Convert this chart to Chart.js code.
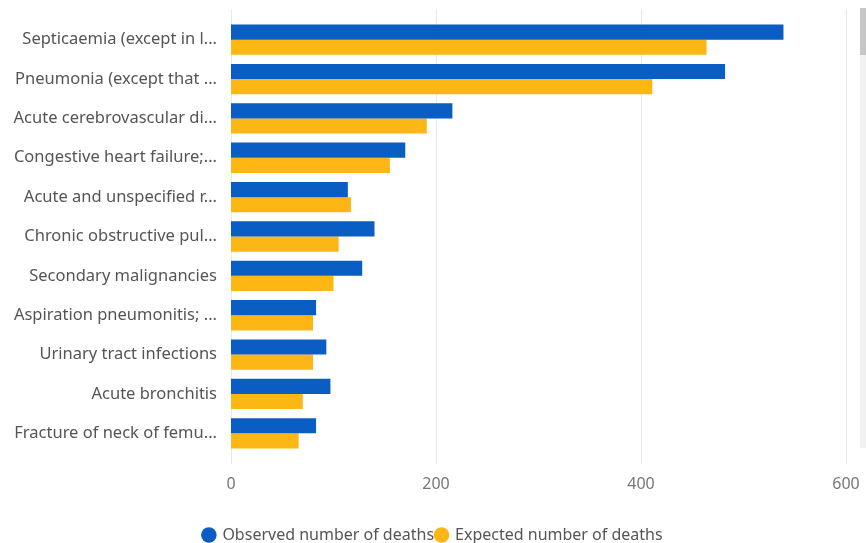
<!DOCTYPE html>
<html>
<head>
<meta charset="utf-8">
<script src="https://cdn.jsdelivr.net/npm/chart.js@4.4.1/dist/chart.umd.min.js"></script>
<style>
  html, body { margin: 0; padding: 0; background: #fff; }
  #wrap { position: relative; width: 866px; height: 543px; }
  #track { position: absolute; left: 860px; top: 8px; width: 6px; height: 440px; background: #f1f1f1; }
  #thumb { position: absolute; left: 860px; top: 8px; width: 6px; height: 47px; background: #c6c6c6; }
</style>
</head>
<body>
<div id="wrap">
  <canvas id="chart" width="866" height="543"></canvas>
  <div id="track"></div>
  <div id="thumb"></div>
</div>
<script>
const categories = [
  "Septicaemia (except in l...",
  "Pneumonia (except that ...",
  "Acute cerebrovascular di...",
  "Congestive heart failure;...",
  "Acute and unspecified r...",
  "Chronic obstructive pul...",
  "Secondary malignancies",
  "Aspiration pneumonitis; ...",
  "Urinary tract infections",
  "Acute bronchitis",
  "Fracture of neck of femu..."
];
const observed = [539, 482, 216, 170, 114, 140, 128, 83, 93, 97, 83];
const expected = [464, 411, 191, 155, 117, 105, 100, 80, 80, 70, 66];
const xTicks = [0, 200, 400, 600];

// vertical grid lines that run a little past the bars, like the original
const longGrid = {
  id: "longGrid",
  beforeDatasetsDraw(chart) {
    const x = chart.scales.x;
    const c = chart.ctx;
    c.save();
    c.strokeStyle = "#e9e9e9";
    c.lineWidth = 1;
    x.ticks.forEach((t) => {
      const px = Math.round(x.getPixelForValue(t.value)) + 0.5;
      c.beginPath();
      c.moveTo(px, chart.chartArea.top - 11);
      c.lineTo(px, chart.chartArea.bottom + 11);
      c.stroke();
    });
    c.restore();
  },
};

const ctx = document.getElementById("chart").getContext("2d");
new Chart(ctx, {
  type: "bar",
  data: {
    labels: categories,
    datasets: [
      {
        label: "Observed number of deaths",
        data: observed,
        backgroundColor: "#0A5DC2",
        barPercentage: 1,
        categoryPercentage: 0.77,
      },
      {
        label: "Expected number of deaths",
        data: expected,
        backgroundColor: "#FDB714",
        barPercentage: 1,
        categoryPercentage: 0.77,
      },
    ],
  },
  plugins: [longGrid],
  options: {
    indexAxis: "y",
    responsive: false,
    animation: false,
    layout: { padding: { top: 20, right: 0, left: 0, bottom: -10 } },
    plugins: {
      tooltip: { enabled: false },
      legend: {
        position: "bottom",
        labels: {
          usePointStyle: true,
          pointStyle: "circle",
          boxWidth: 11,
          boxHeight: 11,
          padding: 2,
          color: "#555",
          font: { family: "'Noto Sans', sans-serif", size: 16 },
        },
      },
    },
    scales: {
      x: {
        min: 0,
        max: 600,
        afterBuildTicks: (scale) => {
          scale.ticks = xTicks.map((v) => ({ value: v }));
        },
        afterFit: (scale) => {
          scale.height = 72;
          scale.paddingRight = 20;
        },
        grid: { display: false },
        border: { display: false },
        ticks: {
          padding: 14,
          color: "#777",
          font: { family: "'Noto Sans', sans-serif", size: 16 },
        },
      },
      y: {
        afterFit: (scale) => {
          scale.width = 231;
          scale.paddingTop = 0;
          scale.paddingBottom = 0;
        },
        grid: { display: false, drawTicks: false },
        border: { display: false },
        ticks: {
          padding: 14,
          color: "#555",
          font: { family: "'Noto Sans', sans-serif", size: 16.5 },
        },
      },
    },
  },
});
</script>
</body>
</html>
